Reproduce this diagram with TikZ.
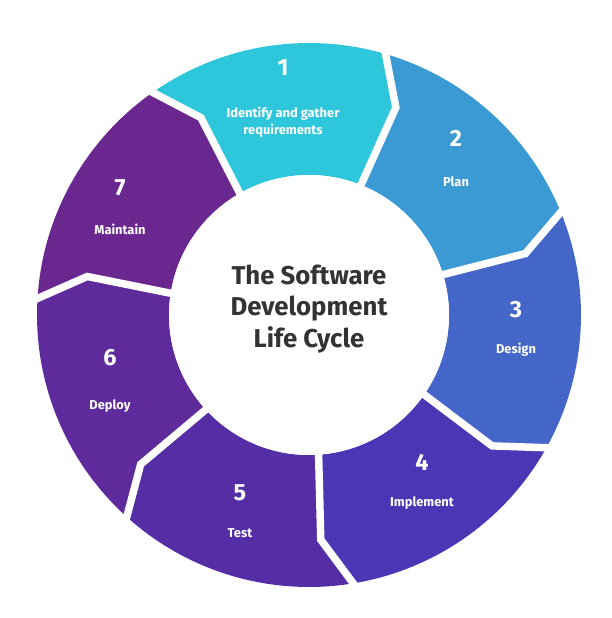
\documentclass[tikz,border=0pt]{standalone}
\usepackage{fontspec}
\setmainfont{Fira Sans}
\begin{document}
\begin{tikzpicture}[x=0.03cm,y=-0.03cm,
  num/.style={text=white,font=\fontsize{20}{22}\selectfont\bfseries},
  lab/.style={text=white,font=\fontsize{11}{15}\selectfont\bfseries,align=center},
  title/.style={text=black!80,font=\fontsize{22}{27}\selectfont\bfseries,align=center}]
\useasboundingbox[fill=white] (0,0) rectangle (611,618);
\definecolor{c1}{HTML}{2EC6DB}
\definecolor{c2}{HTML}{3B9AD4}
\definecolor{c3}{HTML}{4466C8}
\definecolor{c4}{HTML}{4A37B5}
\definecolor{c5}{HTML}{552EA6}
\definecolor{c6}{HTML}{5F2A9C}
\definecolor{c7}{HTML}{6A2790}
\def\R{272}\def\r{140}\def\k{225}
\foreach \i/\col in {0/c1,1/c2,2/c3,3/c4,4/c5,5/c6,6/c7}{
  \pgfmathsetmacro\s{96-51.4286*\i+25.714}
  \pgfmathsetmacro\e{96-51.4286*\i-25.714}
  \fill[\col] plot[domain=\s+4:\e+4,samples=40] ({309+\R*cos(\x)},{315-\R*sin(\x)})
    -- ({309+\k*cos(\e-3)},{315-\k*sin(\e-3)})
    -- plot[domain=\e-2:\s-2,samples=40] ({309+\r*cos(\x)},{315-\r*sin(\x)})
    -- ({309+\k*cos(\s-3)},{315-\k*sin(\s-3)}) -- cycle;
}
\foreach \i in {0,...,6}{
  \pgfmathsetmacro\b{96-51.4286*\i+25.714}
  \draw[white,line width=7.5*0.85pt,line join=miter]
    ({309+(\R+6)*cos(\b+4)},{315-(\R+6)*sin(\b+4)})
    -- ({309+\k*cos(\b-3)},{315-\k*sin(\b-3)})
    -- ({309+(\r-4)*cos(\b-2)},{315-(\r-4)*sin(\b-2)});
}
\fill[white] (309,315) circle[radius=140];
\node[title] (t) at (309,309) {The Software\\Development\\Life Cycle};
\node[num] (n1) at (283,68) {1};
\node[lab] (l1) at (283,122) {Identify and gather\\requirements};
\node[num] (n2) at (456,138) {2};
\node[lab] (l2) at (456,182) {Plan};
\node[num] (n3) at (516,310) {3};
\node[lab] (l3) at (516,350) {Design};
\node[num] (n4) at (422,462) {4};
\node[lab] (l4) at (422,503) {Implement};
\node[num] (n5) at (240,493) {5};
\node[lab] (l5) at (240,533) {Test};
\node[num] (n6) at (110,358) {6};
\node[lab] (l6) at (110,406) {Deploy};
\node[num] (n7) at (120,188) {7};
\node[lab] (l7) at (120,229) {Maintain};
\end{tikzpicture}
\end{document}
